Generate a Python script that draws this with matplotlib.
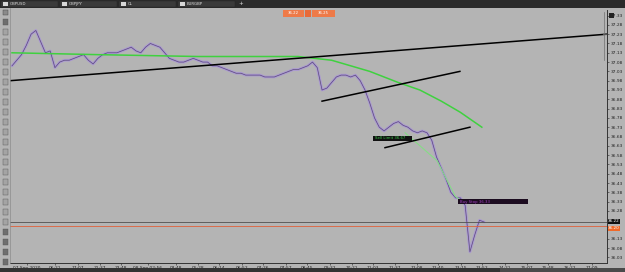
import matplotlib
matplotlib.use("Agg")
import matplotlib.pyplot as plt
from matplotlib.patches import Rectangle

# Price bars (closes, one per bar)
closes = [
    37.06, 37.09, 37.12, 37.17, 37.23, 37.25, 37.19, 37.13, 37.14, 37.05,
    37.08, 37.09, 37.09, 37.10, 37.11, 37.12, 37.09, 37.07, 37.10, 37.12,
    37.13, 37.13, 37.13, 37.14, 37.15, 37.16, 37.14, 37.13, 37.16, 37.18,
    37.17, 37.16, 37.13, 37.10, 37.09, 37.08, 37.08, 37.09, 37.10, 37.09,
    37.08, 37.08, 37.06, 37.06, 37.05, 37.04, 37.03, 37.02, 37.02, 37.01,
    37.01, 37.01, 37.01, 37.00, 37.00, 37.00, 37.01, 37.02, 37.03, 37.04,
    37.04, 37.05, 37.06, 37.08, 37.05, 36.93, 36.94, 36.97, 37.00, 37.01,
    37.01, 37.00, 37.01, 36.98, 36.93, 36.86, 36.78, 36.73, 36.71, 36.73,
    36.75, 36.76, 36.74, 36.73, 36.71, 36.70, 36.71, 36.70, 36.66, 36.57,
    36.51, 36.45, 36.38, 36.35, 36.35, 36.31, 36.06, 36.15, 36.23, 36.22,
]

# slow moving average (green)
ma_idx = [0, 18, 39, 60, 67, 71, 75, 81, 85.5, 90, 94, 98.5]
ma_val = [37.13, 37.12, 37.11, 37.11, 37.09, 37.06, 37.03, 36.97, 36.93, 36.87, 36.81, 36.73]

# fast moving average (light green, only visible on the drop)
fast_idx = [82.4, 89.1, 92.9, 94.3]
fast_val = [36.70, 36.55, 36.36, 36.33]

# trend lines drawn by hand
trend_x = [(-0.4, 124.7), (65, 93.9), (78.2, 96)]
trend_y = [(36.98, 37.23), (36.87, 37.03), (36.62, 36.73)]

# order labels
order_text = ["Sell Limit 36.67", "Buy Stop 36.33"]
order_price = [36.67, 36.33]
order_from = [75.7, 93.5]
order_to = [83.9, 108.2]

last_price = 36.22
ask_price = 36.20

price_ticks = [round(36.03 + 0.05 * k, 2) for k in range(27)]

tick_idx = [3.1, 9.0, 13.8, 18.4, 22.9, 28.5, 34.4, 39.0, 43.4, 48.2, 52.6, 57.4, 61.8,
            66.7, 71.3, 75.7, 80.3, 84.9, 89.3, 94.1, 98.5, 103.4, 108.0, 112.4, 117.0, 121.6]
tick_lbl = ["07 Sep 2020", "06:21", "17:07", "21:37", "23:48", "08 Sep 02:56", "03:48",
            "05:28", "06:14", "06:52", "07:26", "07:57", "08:45", "09:32", "10:21", "11:03",
            "11:37", "12:08", "12:40", "13:15", "13:52", "14:21", "15:07", "15:48", "16:22", "17:09"]

tabs = ["GBPUSD", "GBPJPY", "CL", "EURGBP"]

BG = "#b4b4b4"
W, H = 625, 272

fig = plt.figure(figsize=(6.25, 2.72), dpi=100)
fig.patch.set_facecolor(BG)

ax = fig.add_axes([10 / W, 9 / H, 597 / W, 253 / H])
ax.set_facecolor(BG)
ax.set_xlim(-0.42, 124.74)
ax.set_ylim(36.0, 37.36)

x = list(range(len(closes)))
ax.plot(x, closes, color="#a892d8", lw=1.9, alpha=0.85, solid_capstyle="round")
ax.plot(x, closes, color="#5a4a78", lw=0.5)
ax.plot(ma_idx, ma_val, color="#3fd13f", lw=1.1)
ax.plot(fast_idx, fast_val, color="#86dc86", lw=0.8)

for tx, ty in zip(trend_x, trend_y):
    ax.plot(tx, ty, color="black", lw=1.1)

ax.axhline(last_price, color="#505050", lw=0.6)
ax.axhline(ask_price, color="#e0603a", lw=0.6)

box_fc = ["#111111", "#1c0c20"]
box_tc = ["#3cc84b", "#a040c0"]
for txt, p, a, b, fc, tc in zip(order_text, order_price, order_from, order_to, box_fc, box_tc):
    ax.add_patch(Rectangle((a, p - 0.014), b - a, 0.028, facecolor=fc, edgecolor="none", zorder=4))
    ax.text(a + 0.4, p, txt, color=tc, fontsize=2.8, va="center", ha="left", zorder=5)

# tick labels hidden behind the price boxes are left blank
ax.set_yticks(price_ticks)
ax.set_yticklabels(["" if abs(v - 36.21) < 0.035 else f"{v:.2f}" for v in price_ticks])
ax.yaxis.tick_right()
ax.tick_params(axis="y", length=1.5, pad=1, labelsize=3.2, colors="#222222", width=0.4)
ax.set_xticks(tick_idx)
ax.set_xticklabels(tick_lbl)
ax.tick_params(axis="x", length=1.5, pad=0.8, labelsize=3.2, colors="#222222", width=0.4)
for s in ["top", "left"]:
    ax.spines[s].set_visible(False)
for s in ["right", "bottom"]:
    ax.spines[s].set_color("#333333")
    ax.spines[s].set_linewidth(0.7)

# price boxes on the right axis
ax.text(1.002, last_price + 0.004, f"{last_price:.2f}", transform=ax.get_yaxis_transform(),
        fontsize=3.0, color="white", va="center", ha="left", zorder=6,
        bbox=dict(boxstyle="square,pad=0.12", fc="#111111", ec="none"))
ax.text(1.002, ask_price - 0.014, f"{ask_price:.2f}", transform=ax.get_yaxis_transform(),
        fontsize=3.0, color="white", va="center", ha="left", zorder=6,
        bbox=dict(boxstyle="square,pad=0.12", fc="#f06a2a", ec="none"))

# window chrome, pixel coordinates
ui = fig.add_axes([0, 0, 1, 1], zorder=10)
ui.set_xlim(0, W)
ui.set_ylim(H, 0)
ui.axis("off")
ui.patch.set_alpha(0)

ui.add_patch(Rectangle((0, 0), W, 7.5, fc="#2b2b2b", ec="none"))
for i, name in enumerate(tabs):
    x0 = 1 + i * 59
    ui.add_patch(Rectangle((x0, 0.5), 57, 6.5, fc="#3a3a3a", ec="#222222", lw=0.3))
    ui.add_patch(Rectangle((x0 + 2, 1.5), 4.5, 4.5, fc="#d8d8d8", ec="none"))
    ui.text(x0 + 9, 3.8, name, color="#dddddd", fontsize=2.8, va="center")
ui.text(241, 3.8, "+", color="#dddddd", fontsize=4, va="center", ha="center")
ui.add_patch(Rectangle((2.5, 9.5), 5, 5, fc="#8a8a8a", ec="#444444", lw=0.3))

ui.add_patch(Rectangle((283, 9.5), 21, 7, fc="#ee7a48", ec="none"))
ui.add_patch(Rectangle((305, 9.5), 6, 7, fc="#e86a38", ec="none"))
ui.add_patch(Rectangle((312, 9.5), 23, 7, fc="#ee7a48", ec="none"))
ui.text(293, 13, "36.22", color="white", fontsize=2.8, va="center", ha="center")
ui.text(323, 13, "36.25", color="white", fontsize=2.8, va="center", ha="center")

# left drawing toolbar
ui.plot([10, 10], [8, 263], color="#8c8c8c", lw=0.5)
for k in range(25):
    y0 = 19 + k * 10
    dark = k in (0, 21, 22, 23, 24)
    ui.add_patch(Rectangle((2.5, y0), 5.5, 5.5, fc="#6e6e6e" if dark else "#a4a4a4",
                           ec="#555555", lw=0.3))

# scale bracket and icon at top right
ui.plot([604, 604], [12, 60], color="#707070", lw=0.5)
ui.plot([602.5, 605.5], [34, 34], color="#555555", lw=0.8)
ui.add_patch(Rectangle((609, 12.5), 5, 5, fc="#222222", ec="none"))

# bottom status strip
ui.add_patch(Rectangle((0, 268), W, 4, fc="#333333", ec="none"))
ui.add_patch(Rectangle((500, 268), W - 500, 4, fc="#4a4a4a", ec="none"))

fig.savefig("out.png", dpi=100, facecolor=BG)
